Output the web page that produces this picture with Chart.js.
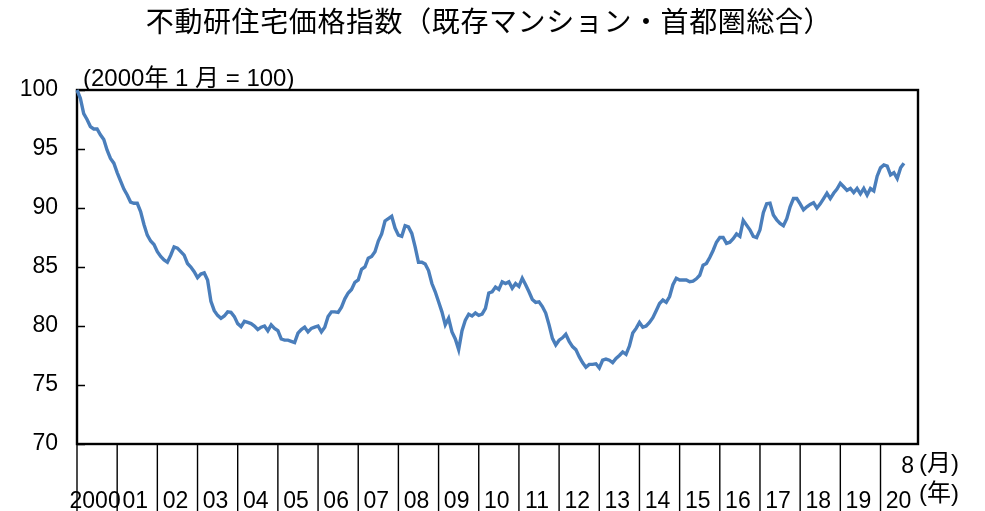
<!DOCTYPE html>
<html lang="ja">
<head>
<meta charset="utf-8">
<title>不動研住宅価格指数（既存マンション・首都圏総合）</title>
<script src="https://cdn.jsdelivr.net/npm/chart.js@4.4.1/dist/chart.umd.min.js"></script>
<style>
  html, body { margin: 0; padding: 0; background: #fff; }
  #wrap { width: 985px; height: 511px; }
</style>
</head>
<body>
<div id="wrap"><canvas id="chart" width="985" height="511"></canvas></div>
<script>
const TITLE = '不動研住宅価格指数（既存マンション・首都圏総合）';
const BASE_NOTE = '(2000年 1 月 = 100)';
const YEAR_LABELS = ['2000','01','02','03','04','05','06','07','08','09','10',
  '11','12','13','14','15','16','17','18','19','20'];
const LAST_MONTH = '8';
const Y_TICKS = [70, 75, 80, 85, 90, 95, 100];

// 月次指数（2000年1月〜2020年8月）、グラフから読み取り
const IDX_2000_2004 = [
  100.0, 99.3, 98.0, 97.5, 96.9, 96.7, 96.7, 96.2, 95.8, 94.9, 94.2, 93.8,
  93.0, 92.3, 91.6, 91.1, 90.5, 90.4, 90.4, 89.7, 88.6, 87.7, 87.2, 86.9,
  86.3, 85.9, 85.6, 85.4, 86.0, 86.7, 86.6, 86.3, 86.0, 85.3, 85.0, 84.6,
  84.1, 84.4, 84.5, 83.9, 82.1, 81.3, 80.9, 80.65, 80.85, 81.2, 81.15, 80.8,
  80.2, 79.95, 80.4, 80.3, 80.2, 80.0, 79.7, 79.9, 80.0, 79.6, 80.1, 79.8
];
const IDX_2005_2009 = [
  79.6, 78.9, 78.8, 78.8, 78.7, 78.6, 79.4, 79.7, 79.9, 79.5, 79.8, 79.9,
  80.0, 79.5, 79.9, 80.8, 81.2, 81.2, 81.15, 81.6, 82.3, 82.8, 83.1, 83.7,
  83.9, 84.8, 85.0, 85.75, 85.9, 86.3, 87.2, 87.8, 88.9, 89.1, 89.3, 88.3,
  87.7, 87.6, 88.5, 88.4, 87.85, 86.7, 85.4, 85.4, 85.25, 84.7, 83.6, 82.9,
  82.05, 81.2, 80.1, 80.65, 79.5, 78.9, 78.0, 79.6, 80.5, 81.0, 80.85, 81.1
];
const IDX_2010_2014 = [
  80.9, 81.0, 81.5, 82.8, 82.9, 83.3, 83.1, 83.75, 83.6, 83.75, 83.2, 83.6,
  83.35, 84.05, 83.5, 82.9, 82.25, 82.0, 82.05, 81.65, 81.1, 80.1, 78.95, 78.4,
  78.8, 79.0, 79.3, 78.7, 78.25, 78.0, 77.4, 76.9, 76.5, 76.75, 76.75, 76.8,
  76.45, 77.1, 77.2, 77.1, 76.9, 77.25, 77.5, 77.8, 77.6, 78.3, 79.4, 79.8,
  80.3, 79.9, 80.0, 80.3, 80.7, 81.3, 81.9, 82.2, 82.0, 82.5, 83.5, 84.05
];
const IDX_2015_2020 = [
  83.9, 83.9, 83.9, 83.75, 83.8, 84.0, 84.3, 85.15, 85.3, 85.8, 86.4, 87.1,
  87.5, 87.5, 87.0, 87.1, 87.4, 87.8, 87.6, 88.95, 88.55, 88.15, 87.6, 87.5,
  88.15, 89.6, 90.35, 90.4, 89.4, 89.0, 88.7, 88.5, 89.1, 90.1, 90.8, 90.8,
  90.35, 89.85, 90.1, 90.3, 90.45, 90.0, 90.35, 90.8, 91.25, 90.8, 91.25, 91.6,
  92.1, 91.8, 91.5, 91.65, 91.3, 91.65, 91.2, 91.65, 91.1, 91.65, 91.45, 92.7,
  93.4, 93.65, 93.55, 92.8, 93.0, 92.5, 93.4, 93.8
];

const VALUES = [...IDX_2000_2004, ...IDX_2005_2009, ...IDX_2010_2014, ...IDX_2015_2020];

const NUM_FONT = "'Liberation Sans', Arial, 'Noto Sans CJK JP', sans-serif";
const JP_FONT = "'Noto Sans CJK JP', sans-serif";

const framePlugin = {
  id: 'frame',
  beforeDatasetsDraw(c) {
    const { ctx, chartArea: a, scales: { x, y } } = c;
    ctx.save();
    ctx.strokeStyle = '#000';
    ctx.lineWidth = 1.4;
    ctx.beginPath();
    Y_TICKS.forEach(v => {
      const py = Math.round(y.getPixelForValue(v)) + 0.5;
      ctx.moveTo(a.left, py); ctx.lineTo(a.left + 8, py);
    });
    YEAR_LABELS.forEach((_, k) => {
      const px = x.getPixelForValue(k * 12);
      ctx.moveTo(px, a.bottom); ctx.lineTo(px, c.height);
    });
    ctx.stroke();
    ctx.lineWidth = 2.4;
    ctx.strokeRect(a.left, a.top, a.right - a.left, a.bottom - a.top);
    ctx.restore();
  },
  afterDraw(c) {
    const { ctx, scales: { x } } = c;
    ctx.save();
    ctx.fillStyle = '#000';

    // タイトル
    ctx.font = `28px ${JP_FONT}`;
    ctx.letterSpacing = '0.6px';
    ctx.textAlign = 'center';
    ctx.textBaseline = 'middle';
    ctx.fillText(TITLE, 489, 21);
    ctx.letterSpacing = '0px';

    ctx.font = `24px ${NUM_FONT}`;
    ctx.textAlign = 'left';
    ctx.textBaseline = 'alphabetic';
    ctx.fillText(BASE_NOTE, 83, 86);

    // 年ラベル（目盛りの間）
    ctx.font = `23px ${NUM_FONT}`;
    ctx.textAlign = 'center';
    YEAR_LABELS.forEach((lab, k) => {
      const px = x.getPixelForValue(k * 12 + 6) - 2;
      ctx.fillText(lab, px, 508);
    });

    ctx.textAlign = 'right';
    ctx.fillText(LAST_MONTH, 914, 473);
    ctx.textAlign = 'left';
    ctx.font = `24px ${NUM_FONT}`;
    ctx.fillText('(月)', 919, 471);
    ctx.fillText('(年)', 919, 501);
    ctx.restore();
  }
};

new Chart(document.getElementById('chart'), {
  type: 'line',
  data: {
    datasets: [{
      data: VALUES.map((v, i) => ({ x: i, y: v })),
      borderColor: '#4a7ebb',
      borderWidth: 3.4,
      pointRadius: 0,
      tension: 0,
      fill: false,
      clip: false
    }]
  },
  options: {
    responsive: false,
    animation: false,
    layout: { padding: { left: 0, top: 90, right: 67, bottom: 67 } },
    plugins: { legend: { display: false }, tooltip: { enabled: false }, title: { display: false } },
    scales: {
      x: { type: 'linear', min: 0, max: 251.2, display: false },
      y: {
        min: 70, max: 100,
        afterFit: (s) => { s.width = 77; },
        afterBuildTicks: (s) => { s.ticks = Y_TICKS.map(v => ({ value: v })); },
        grid: { display: false, drawTicks: false },
        border: { display: false },
        ticks: { padding: 19, color: '#000', font: { family: NUM_FONT, size: 23 } }
      }
    }
  },
  plugins: [framePlugin]
});
</script>
</body>
